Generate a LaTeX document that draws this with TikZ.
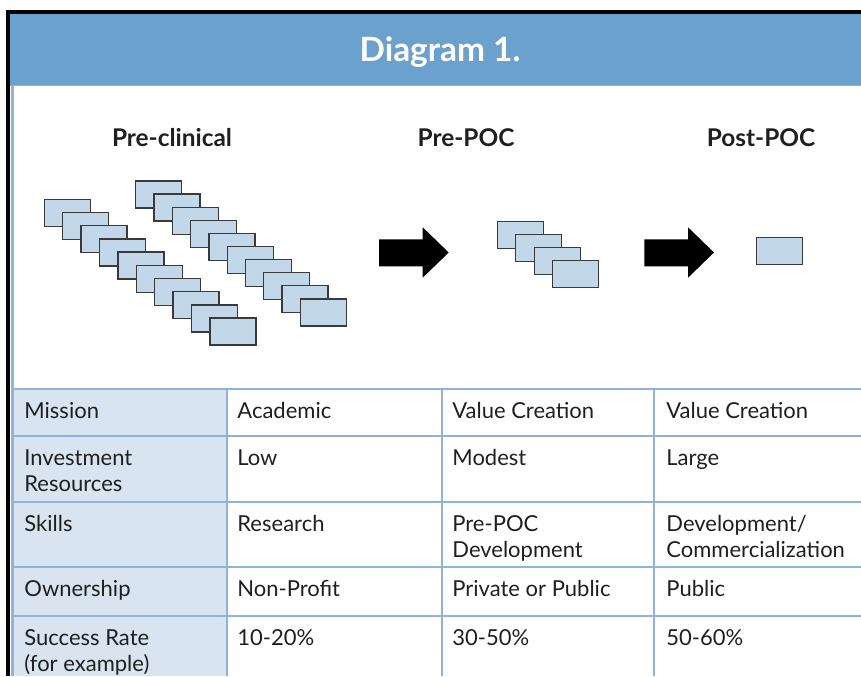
\documentclass[tikz,border=0pt]{standalone}
\usepackage{fontspec}
\setmainfont{Lato}
\usetikzlibrary{positioning}
\definecolor{hdrblue}{HTML}{6AA1CD}
\definecolor{cardfill}{HTML}{C2D7EA}
\definecolor{cardedge}{HTML}{3A3A3A}
\definecolor{gridblue}{HTML}{8EB4DA}
\definecolor{colfill}{HTML}{D8E5F1}
\newcommand{\mytextcol}{black!88}

\tikzset{
  card/.style = {draw = cardedge, fill = cardfill, line width = .65pt},
  gridline/.style = {draw = gridblue, line width = 1pt},
  cell/.style = {anchor = base west, align = left, inner sep = 0,
    text = \mytextcol, font = \fontsize{11}{13.25}\selectfont},
  stage/.style = {anchor = base, inner sep = 0, text = \mytextcol,
    font = \fontsize{12.2}{14}\selectfont\bfseries},
}

\begin{document}
\begin{tikzpicture}[x = .5pt, y = -.5pt]
\useasboundingbox (0,0) rectangle (861,676);

% frame and header
\fill[black] (6,10) rectangle (861,14);
\fill[black] (6,10) rectangle (10,676);
\fill[hdrblue] (10,14) rectangle (861,85);
\draw[gridblue, line width = .75pt] (10,85.5) -- (861,85.5);
\fill[gridblue] (11,85) rectangle (14,676);
\node[anchor = base, inner sep = 0, text = white,
  font = \fontsize{16.7}{20}\selectfont\bfseries] (title) at (440,61) {Diagram 1.};

% stage headings
\node[stage] (preclin) at (172,146.5) {Pre-clinical};
\node[stage] (prepoc) at (466,146.5) {Pre-POC};
\node[stage] (postpoc) at (761,146.5) {Post-POC};

% projects
\foreach \i in {0,...,9}
  \draw[card] (44.3+18.4*\i, 199.3+13.2*\i) rectangle ++(46,27);
\foreach \i in {0,...,9}
  \draw[card] (135.7+18.3*\i, 181+13.1*\i) rectangle ++(46,27);
\foreach \i in {0,...,3}
  \draw[card] (497.3+18.5*\i, 221.7+13*\i) rectangle ++(46,27);
\draw[card] (756.7,237.3) rectangle ++(46,27.5);

% arrows
\foreach \dx in {0, 265.3}
  \fill[black, shift = {(\dx,0)}] (379,239.3) -- (422.7,239.3) -- (422.7,227.3)
    -- (448.7,252.5) -- (422.7,277.7) -- (422.7,266.3) -- (379,266.3) -- cycle;

% table
\fill[colfill] (14,389) rectangle (227,676);
\foreach \y in {389, 436, 502, 567, 616}
  \draw[gridline] (13,\y) -- (861,\y);
\foreach \x in {227, 441.5, 654}
  \draw[gridline] (\x,389) -- (\x,676);

% two-line cells sit on the baseline of their last line
\node[cell] (mission) at (24,418) {Mission};
\node[cell] (invest) at (24,491.5) {Investment\\Resources};
\node[cell] (skills) at (24,531) {Skills};
\node[cell] (owner) at (24,596) {Ownership};
\node[cell] (success) at (24,671.5) {Success Rate\\(for example)};

\node[cell] (missa) at (237,418) {Academic};
\node[cell] (investa) at (237,465) {Low};
\node[cell] (skillsa) at (237,531) {Research};
\node[cell] (ownera) at (237,596) {Non-Profit};
\node[cell] (successa) at (237,645) {10-20\%};

\node[cell] (missb) at (452,418) {Value Creation};
\node[cell] (investb) at (452,465) {Modest};
\node[cell] (skillsb) at (452,557.5) {Pre-POC\\Development};
\node[cell] (ownerb) at (452,596) {Private or Public};
\node[cell] (successb) at (452,645) {30-50\%};

\node[cell] (missc) at (666,418) {Value Creation};
\node[cell] (investc) at (666,465) {Large};
\node[cell] (skillsc) at (666,557.5) {Development/\\Commercialization};
\node[cell] (ownerc) at (666,596) {Public};
\node[cell] (successc) at (666,645) {50-60\%};
\end{tikzpicture}
\end{document}
